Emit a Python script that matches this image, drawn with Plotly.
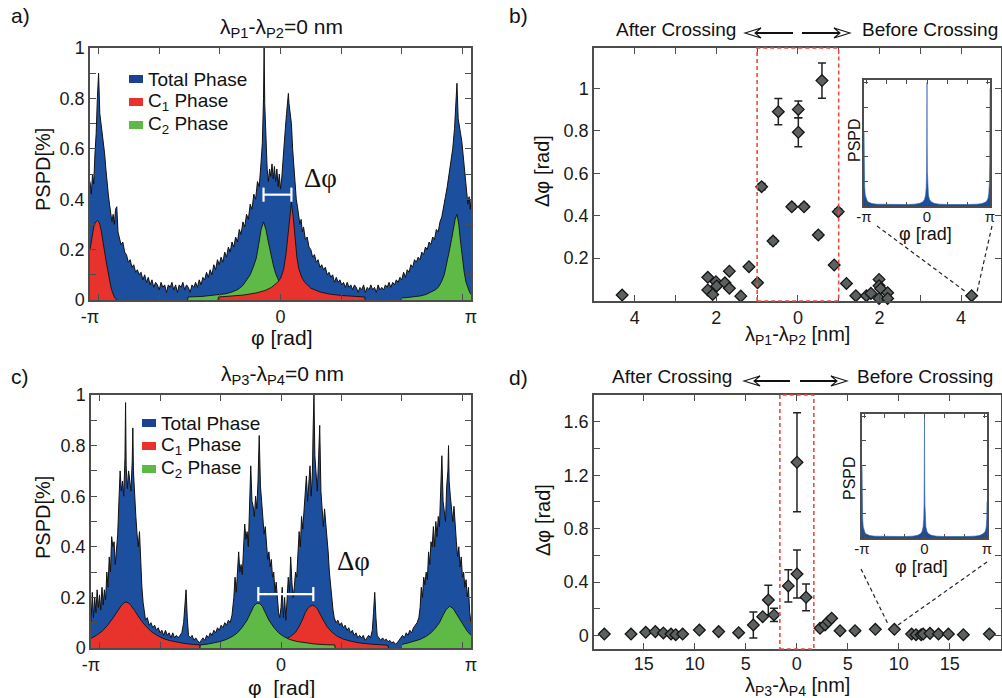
import numpy as np
import plotly.graph_objects as go

PI = float(np.pi)

# ---------------- Panel a : total phase PSPD (phi, value) ----------------
total_a = [(-3.1416,0.47),(-3.12,0.42),(-3.10,0.50),(-3.08,0.46),(-3.06,0.58),(-3.04,0.66),(-3.02,0.80),
 (-3.00,0.90),(-2.98,0.74),(-2.96,0.70),(-2.94,0.68),(-2.92,0.62),(-2.90,0.58),(-2.88,0.52),(-2.86,0.46),
 (-2.84,0.42),(-2.82,0.38),(-2.80,0.35),(-2.78,0.31),(-2.76,0.34),(-2.74,0.30),(-2.72,0.36),(-2.70,0.37),
 (-2.68,0.27),(-2.66,0.25),(-2.63,0.22),(-2.60,0.23),(-2.57,0.19),(-2.54,0.18),(-2.51,0.15),(-2.48,0.16),
 (-2.45,0.13),(-2.42,0.14),(-2.39,0.11),(-2.36,0.12),(-2.33,0.10),(-2.30,0.11),(-2.27,0.08),(-2.24,0.10),
 (-2.21,0.07),(-2.18,0.09),(-2.15,0.06),(-2.12,0.08),(-2.09,0.05),(-2.06,0.07),(-2.03,0.06),(-2.00,0.04),
 (-1.97,0.07),(-1.94,0.05),(-1.91,0.06),(-1.88,0.03),(-1.85,0.06),(-1.82,0.05),(-1.79,0.07),(-1.76,0.04),
 (-1.73,0.06),(-1.70,0.03),(-1.67,0.06),(-1.64,0.05),(-1.61,0.07),(-1.58,0.04),(-1.55,0.06),(-1.52,0.05),
 (-1.49,0.03),(-1.46,0.06),(-1.43,0.05),(-1.40,0.07),(-1.37,0.05),(-1.34,0.08),(-1.31,0.06),(-1.28,0.09),
 (-1.25,0.08),(-1.22,0.11),(-1.19,0.09),(-1.16,0.12),(-1.13,0.10),(-1.10,0.14),(-1.07,0.12),(-1.04,0.16),
 (-1.01,0.14),(-0.98,0.17),(-0.95,0.15),(-0.92,0.19),(-0.89,0.17),(-0.86,0.21),(-0.83,0.19),(-0.80,0.23),
 (-0.77,0.21),(-0.74,0.25),(-0.71,0.23),(-0.68,0.28),(-0.65,0.26),(-0.62,0.31),(-0.59,0.29),(-0.56,0.34),
 (-0.53,0.32),(-0.50,0.38),(-0.47,0.36),(-0.44,0.42),(-0.41,0.40),(-0.38,0.47),(-0.35,0.45),(-0.32,0.55),
 (-0.30,0.62),(-0.28,0.80),(-0.27,1.00),(-0.26,0.78),(-0.24,0.60),(-0.22,0.52),(-0.20,0.47),(-0.18,0.52),
 (-0.16,0.49),(-0.14,0.54),(-0.12,0.48),(-0.10,0.53),(-0.08,0.47),(-0.06,0.52),(-0.04,0.45),(-0.02,0.50),
 (0.00,0.44),(0.02,0.48),(0.04,0.55),(0.06,0.60),(0.08,0.68),(0.10,0.74),(0.12,0.80),(0.13,0.82),
 (0.14,0.78),(0.16,0.74),(0.18,0.70),(0.20,0.60),(0.22,0.52),(0.24,0.44),(0.26,0.40),(0.28,0.37),
 (0.30,0.34),(0.32,0.30),(0.34,0.32),(0.36,0.27),(0.38,0.29),(0.41,0.24),(0.44,0.25),(0.47,0.21),
 (0.50,0.20),(0.53,0.17),(0.56,0.18),(0.59,0.15),(0.62,0.16),(0.65,0.13),(0.68,0.14),(0.71,0.12),
 (0.74,0.13),(0.77,0.10),(0.80,0.11),(0.83,0.09),(0.86,0.10),(0.89,0.07),(0.92,0.09),(0.95,0.07),
 (0.98,0.08),(1.01,0.06),(1.04,0.07),(1.07,0.05),(1.10,0.07),(1.13,0.05),(1.16,0.06),(1.19,0.04),
 (1.22,0.06),(1.25,0.05),(1.28,0.03),(1.31,0.05),(1.34,0.04),(1.37,0.06),(1.40,0.03),(1.43,0.05),
 (1.46,0.04),(1.49,0.06),(1.52,0.04),(1.55,0.05),(1.58,0.03),(1.61,0.06),(1.64,0.04),(1.67,0.05),
 (1.70,0.04),(1.73,0.06),(1.76,0.05),(1.79,0.07),(1.82,0.05),(1.85,0.07),(1.88,0.06),(1.91,0.08),
 (1.94,0.07),(1.97,0.09),(2.00,0.08),(2.03,0.11),(2.06,0.09),(2.09,0.12),(2.12,0.11),(2.15,0.14),
 (2.18,0.13),(2.21,0.16),(2.24,0.15),(2.27,0.17),(2.30,0.16),(2.33,0.19),(2.36,0.18),(2.39,0.21),
 (2.42,0.20),(2.45,0.23),(2.48,0.22),(2.51,0.25),(2.54,0.24),(2.57,0.28),(2.60,0.27),(2.63,0.31),
 (2.66,0.33),(2.69,0.38),(2.72,0.41),(2.75,0.45),(2.78,0.50),(2.81,0.54),(2.84,0.60),(2.87,0.68),
 (2.89,0.76),(2.91,0.86),(2.93,0.72),(2.95,0.68),(2.97,0.66),(2.99,0.63),(3.01,0.58),(3.03,0.52),
 (3.05,0.46),(3.07,0.43),(3.09,0.38),(3.11,0.41),(3.13,0.36),(3.1416,0.40)]

c1_a_left = [(-3.1416,0.20),(-3.12,0.235),(-3.10,0.265),(-3.08,0.29),(-3.06,0.305),(-3.04,0.313),
 (-3.02,0.316),(-3.00,0.312),(-2.98,0.30),(-2.96,0.28),(-2.94,0.255),(-2.92,0.225),(-2.90,0.19),
 (-2.88,0.16),(-2.86,0.13),(-2.84,0.10),(-2.82,0.075),(-2.80,0.055),(-2.78,0.037),(-2.76,0.022),
 (-2.74,0.012),(-2.72,0.005),(-2.70,0.0)]
c1_a_mid = [(-1.03,0.0),(-1.025,0.012),(-0.8,0.016),(-0.6,0.02),(-0.4,0.028),(-0.25,0.038),(-0.15,0.05),
 (-0.05,0.07),(0.0,0.085),(0.05,0.12),(0.09,0.18),(0.12,0.26),(0.15,0.34),(0.18,0.388),(0.21,0.33),
 (0.24,0.25),(0.27,0.17),(0.30,0.125),(0.35,0.09),(0.40,0.07),(0.50,0.047),(0.65,0.032),(0.8,0.024),
 (1.0,0.018),(1.2,0.014),(1.39,0.012),(1.395,0.0)]
c2_a_mid = [(-1.53,0.0),(-1.525,0.012),(-1.3,0.014),(-1.1,0.018),(-0.9,0.025),(-0.8,0.032),(-0.7,0.042),
 (-0.62,0.058),(-0.55,0.08),(-0.5,0.10),(-0.45,0.13),(-0.40,0.165),(-0.36,0.22),(-0.32,0.28),
 (-0.28,0.31),(-0.24,0.28),(-0.20,0.23),(-0.16,0.18),(-0.12,0.14),(-0.08,0.105),(-0.04,0.08),
 (0.0,0.06),(0.02,0.055),(0.021,0.0)]
c2_a_right = [(1.99,0.0),(1.995,0.008),(2.1,0.01),(2.2,0.012),(2.3,0.016),(2.4,0.022),(2.5,0.032),
 (2.55,0.04),(2.6,0.05),(2.65,0.07),(2.7,0.10),(2.74,0.14),(2.78,0.19),(2.82,0.24),(2.85,0.28),
 (2.88,0.32),(2.91,0.34),(2.94,0.30),(2.97,0.23),(3.0,0.16),(3.03,0.11),(3.06,0.07),(3.09,0.045),
 (3.12,0.03),(3.1416,0.022)]
dphi_a = (-0.28, 0.18, 0.418)   # start, end, level of the delta-phi marker

# ---------------- Panel c : total phase PSPD ----------------
total_c = [(-3.1416,0.10),(-3.12,0.22),(-3.10,0.12),(-3.08,0.20),(-3.06,0.14),(-3.04,0.23),(-3.02,0.16),
 (-3.00,0.21),(-2.98,0.15),(-2.96,0.24),(-2.94,0.17),(-2.92,0.23),(-2.90,0.19),(-2.88,0.30),(-2.86,0.24),
 (-2.84,0.36),(-2.82,0.30),(-2.80,0.44),(-2.78,0.40),(-2.76,0.42),(-2.74,0.33),(-2.72,0.38),(-2.70,0.45),
 (-2.68,0.58),(-2.66,0.70),(-2.64,0.62),(-2.62,0.66),(-2.60,0.60),(-2.58,0.75),(-2.57,0.97),(-2.56,0.72),
 (-2.54,0.63),(-2.52,0.70),(-2.50,0.66),(-2.48,0.62),(-2.46,0.74),(-2.45,0.87),(-2.44,0.70),(-2.42,0.58),
 (-2.40,0.52),(-2.38,0.45),(-2.36,0.40),(-2.34,0.46),(-2.32,0.32),(-2.30,0.24),(-2.28,0.18),(-2.26,0.14),
 (-2.24,0.11),(-2.21,0.12),(-2.18,0.09),(-2.15,0.10),(-2.12,0.08),(-2.09,0.09),(-2.06,0.07),(-2.03,0.08),
 (-2.00,0.06),(-1.97,0.07),(-1.94,0.05),(-1.91,0.07),(-1.88,0.05),(-1.85,0.06),(-1.82,0.04),(-1.79,0.06),
 (-1.76,0.04),(-1.73,0.05),(-1.70,0.04),(-1.67,0.05),(-1.64,0.06),(-1.61,0.10),(-1.59,0.17),(-1.57,0.23),
 (-1.55,0.12),(-1.53,0.05),(-1.50,0.04),(-1.47,0.05),(-1.44,0.03),(-1.41,0.04),(-1.38,0.03),(-1.35,0.02),
 (-1.32,0.03),(-1.29,0.04),(-1.26,0.03),(-1.23,0.05),(-1.20,0.04),(-1.17,0.06),(-1.14,0.05),(-1.11,0.07),
 (-1.08,0.06),(-1.05,0.08),(-1.02,0.07),(-0.99,0.09),(-0.96,0.08),(-0.93,0.10),(-0.90,0.09),(-0.87,0.11),
 (-0.84,0.10),(-0.81,0.13),(-0.78,0.20),(-0.76,0.28),(-0.74,0.22),(-0.72,0.30),(-0.70,0.38),(-0.68,0.30),
 (-0.66,0.33),(-0.64,0.29),(-0.62,0.40),(-0.60,0.49),(-0.58,0.43),(-0.56,0.46),(-0.54,0.40),(-0.52,0.55),
 (-0.50,0.72),(-0.48,0.58),(-0.46,0.56),(-0.44,0.52),(-0.42,0.60),(-0.40,0.55),(-0.38,0.66),(-0.36,0.84),
 (-0.34,0.64),(-0.32,0.58),(-0.30,0.52),(-0.28,0.45),(-0.26,0.48),(-0.24,0.41),(-0.22,0.35),(-0.20,0.38),
 (-0.18,0.32),(-0.16,0.35),(-0.14,0.28),(-0.12,0.30),(-0.10,0.22),(-0.08,0.26),(-0.06,0.18),(-0.04,0.14),
 (-0.02,0.12),(0.00,0.16),(0.02,0.24),(0.04,0.12),(0.06,0.20),(0.08,0.11),(0.10,0.19),(0.12,0.28),
 (0.14,0.22),(0.16,0.36),(0.18,0.26),(0.20,0.20),(0.22,0.24),(0.24,0.30),(0.26,0.28),(0.28,0.38),
 (0.30,0.46),(0.32,0.40),(0.34,0.52),(0.36,0.47),(0.38,0.55),(0.40,0.62),(0.42,0.68),(0.44,0.58),
 (0.46,0.66),(0.48,0.72),(0.50,0.60),(0.52,0.70),(0.53,0.85),(0.545,1.00),(0.56,0.76),(0.58,0.70),
 (0.60,0.62),(0.62,0.74),(0.64,0.88),(0.66,0.62),(0.68,0.55),(0.70,0.48),(0.72,0.55),(0.74,0.50),
 (0.76,0.44),(0.78,0.38),(0.80,0.30),(0.82,0.24),(0.84,0.19),(0.86,0.15),(0.88,0.12),(0.91,0.10),
 (0.94,0.11),(0.97,0.09),(1.00,0.10),(1.03,0.08),(1.06,0.09),(1.09,0.07),(1.12,0.08),(1.15,0.06),
 (1.18,0.07),(1.21,0.05),(1.24,0.06),(1.27,0.04),(1.30,0.05),(1.33,0.04),(1.36,0.05),(1.39,0.03),
 (1.42,0.04),(1.45,0.05),(1.48,0.04),(1.51,0.07),(1.53,0.14),(1.55,0.22),(1.57,0.12),(1.59,0.05),
 (1.62,0.04),(1.65,0.03),(1.68,0.04),(1.71,0.03),(1.74,0.035),(1.77,0.025),(1.80,0.03),(1.83,0.02),
 (1.86,0.025),(1.89,0.015),(1.92,0.02),(1.95,0.03),(1.98,0.04),(2.01,0.05),(2.04,0.04),(2.07,0.06),
 (2.10,0.05),(2.13,0.07),(2.16,0.06),(2.19,0.08),(2.22,0.09),(2.25,0.10),(2.28,0.12),(2.30,0.16),
 (2.32,0.24),(2.34,0.20),(2.36,0.28),(2.38,0.25),(2.40,0.30),(2.42,0.27),(2.44,0.38),(2.46,0.33),
 (2.48,0.42),(2.50,0.40),(2.52,0.48),(2.54,0.40),(2.56,0.50),(2.58,0.44),(2.60,0.52),(2.62,0.48),
 (2.64,0.62),(2.66,0.76),(2.68,0.58),(2.70,0.54),(2.72,0.50),(2.74,0.64),(2.76,0.70),(2.77,0.80),
 (2.78,0.66),(2.80,0.60),(2.82,0.55),(2.84,0.50),(2.86,0.56),(2.88,0.46),(2.90,0.42),(2.92,0.36),
 (2.94,0.40),(2.96,0.32),(2.98,0.36),(3.00,0.28),(3.02,0.30),(3.04,0.24),(3.06,0.27),(3.08,0.20),
 (3.10,0.24),(3.12,0.14),(3.1416,0.10)]

c1_c_left = [(-3.1416,0.038),(-3.05,0.05),(-2.95,0.068),(-2.86,0.092),(-2.78,0.118),(-2.70,0.148),
 (-2.64,0.168),(-2.60,0.178),(-2.56,0.182),(-2.52,0.178),(-2.48,0.168),(-2.42,0.148),(-2.34,0.118),
 (-2.25,0.09),(-2.15,0.066),(-2.05,0.05),(-1.95,0.038),(-1.85,0.03),(-1.75,0.024),(-1.6,0.018),
 (-1.45,0.014),(-1.34,0.012),(-1.335,0.0)]
c1_c_mid = [(-0.3,0.0),(-0.295,0.015),(-0.1,0.02),(0.0,0.026),(0.08,0.034),(0.16,0.046),(0.24,0.062),
 (0.30,0.085),(0.36,0.115),(0.40,0.14),(0.44,0.155),(0.48,0.165),(0.52,0.169),(0.56,0.165),(0.60,0.155),
 (0.65,0.135),(0.70,0.11),(0.76,0.085),(0.84,0.063),(0.92,0.048),(1.02,0.036),(1.15,0.027),(1.3,0.02),
 (1.5,0.015),(1.77,0.011),(1.775,0.0)]
c2_c_mid = [(-1.34,0.0),(-1.335,0.012),(-1.2,0.016),(-1.1,0.02),(-1.0,0.026),(-0.9,0.034),(-0.8,0.046),
 (-0.72,0.06),(-0.64,0.082),(-0.56,0.11),(-0.50,0.14),(-0.45,0.165),(-0.41,0.175),(-0.38,0.177),
 (-0.35,0.175),(-0.31,0.165),(-0.26,0.14),(-0.20,0.11),(-0.12,0.082),(-0.04,0.06),(0.04,0.046),
 (0.14,0.034),(0.26,0.026),(0.4,0.02),(0.55,0.016),(0.75,0.013),(0.89,0.012),(0.895,0.0)]
c2_c_right = [(1.99,0.0),(1.995,0.014),(2.1,0.02),(2.2,0.026),(2.3,0.034),(2.4,0.046),(2.48,0.06),
 (2.55,0.078),(2.62,0.10),(2.68,0.13),(2.73,0.152),(2.79,0.165),(2.85,0.155),(2.9,0.135),(2.96,0.11),
 (3.02,0.085),(3.08,0.066),(3.1416,0.05)]
dphi_c = (-0.375, 0.534, 0.213)

# ---------------- Panel b : delta phi vs lambda_P1 - lambda_P2 ----------------
b_dlambda = [-4.31,-2.21,-2.21,-2.09,-2.01,-1.99,-1.79,-1.68,-1.68,-1.40,-1.20,-0.99,-0.89,-0.61,-0.48,
             -0.15,0.01,0.01,0.15,0.50,0.59,0.89,0.99,1.19,1.42,1.68,1.79,1.99,1.99,2.03,1.99,2.20,2.20,4.26]
b_dphi = [0.025,0.109,0.049,0.028,0.088,0.068,0.083,0.057,0.138,0.020,0.159,0.083,0.537,0.280,0.891,
          0.442,0.902,0.794,0.442,0.309,1.038,0.167,0.419,0.080,0.022,0.022,0.033,0.099,0.069,0.055,
          0.009,0.036,0.009,0.022]
b_err = [0,0,0,0,0,0,0,0,0,0,0,0,0.015,0.012,0.062,0.012,0.04,0.069,0.012,0.012,0.083,0,0.012,0,
         0,0,0,0,0,0,0,0,0,0]
b_box = (-1.0, 1.0)

# ---------------- Panel d : delta phi vs lambda_P3 - lambda_P4 ----------------
d_dlambda = [-18.86,-16.24,-14.8,-13.86,-13.07,-12.32,-11.86,-11.18,-9.54,-7.65,-5.69,-4.25,-3.33,-2.78,
             -2.22,-0.82,0.03,0.03,0.92,2.29,2.78,3.1,3.43,4.25,5.72,7.71,9.58,11.27,11.7,12.2,12.4,
             13.07,13.9,14.87,16.34,18.89]
d_dphi = [0.012,0.012,0.025,0.03,0.02,0.012,0.007,0.012,0.042,0.03,0.022,0.08,0.142,0.267,0.155,0.372,
          1.297,0.461,0.287,0.055,0.08,0.105,0.13,0.037,0.037,0.047,0.047,0.012,0.007,0.007,0.012,0.017,
          0.012,0.012,0.007,0.012]
d_err = [0,0,0,0,0,0,0,0,0,0,0,0.097,0,0.11,0.05,0.12,0.37,0.18,0.1,0,0,0,0,0,0,0,0,0,0,0,0,0,0,0,0,0]
d_box = (-1.65, 1.68)

# ---------------- Insets : PSPD far from crossing ----------------
inset_phi = [-3.1416,-3.13,-3.11,-3.08,-3.04,-2.98,-2.9,-2.75,-2.5,-2.0,-1.5,-1.0,-0.6,-0.35,-0.2,-0.12,
             -0.07,-0.04,-0.02,-0.01,-0.004,0.0,0.004,0.01,0.02,0.04,0.07,0.12,0.2,0.35,0.6,1.0,1.5,2.0,
             2.5,2.75,2.9,2.98,3.04,3.08,3.11,3.13,3.1416]
inset_b = [0.60,0.30,0.16,0.09,0.06,0.04,0.03,0.02,0.015,0.012,0.01,0.012,0.015,0.022,0.035,0.055,0.09,
           0.15,0.28,0.5,0.8,1.0,0.8,0.5,0.28,0.15,0.09,0.055,0.035,0.022,0.015,0.012,0.01,0.012,0.015,
           0.02,0.03,0.04,0.06,0.10,0.18,0.35,0.95]
inset_d = [0.60,0.30,0.16,0.09,0.06,0.04,0.03,0.02,0.015,0.012,0.01,0.012,0.015,0.022,0.035,0.055,0.09,
           0.15,0.28,0.5,0.8,1.0,0.8,0.5,0.28,0.15,0.09,0.055,0.035,0.022,0.015,0.012,0.01,0.012,0.015,
           0.02,0.03,0.04,0.05,0.07,0.10,0.16,0.30]
assert len(b_dlambda) == len(b_dphi) == len(b_err)
assert len(d_dlambda) == len(d_dphi) == len(d_err)
assert len(inset_phi) == len(inset_b) == len(inset_d)

# ---------------- styling ----------------
BLUE = '#1d4f9f'
RED = '#e8322c'
GREEN = '#5fb946'
GREY = '#5b6060'
FRAME = '#4d4d4d'
FONT = 'Liberation Sans, Arial, Helvetica, sans-serif'
W, H = 1002, 698


def fx(px):
    return px / W


def fy(py):
    return 1 - py / H


def xy(pairs):
    return [p[0] for p in pairs], [p[1] for p in pairs]


fig = go.Figure()


def area(pairs, color, xa, ya, lw=0.9):
    x, y = xy(pairs)
    fig.add_trace(go.Scatter(x=x, y=y, mode='lines', fill='tozeroy', fillcolor=color,
                             line=dict(color='#111111', width=lw), xaxis=xa, yaxis=ya,
                             showlegend=False, hoverinfo='skip'))


# panel a
area(total_a, BLUE, 'x', 'y', 1.0)
area(c2_a_mid, GREEN, 'x', 'y')
area(c2_a_right, GREEN, 'x', 'y')
area(c1_a_left, RED, 'x', 'y')
area(c1_a_mid, RED, 'x', 'y')
# panel c
area(total_c, BLUE, 'x3', 'y3', 1.0)
area(c1_c_left, RED, 'x3', 'y3')
area(c1_c_mid, RED, 'x3', 'y3')
area(c2_c_mid, GREEN, 'x3', 'y3')
area(c2_c_right, GREEN, 'x3', 'y3')


def scatter(x, y, err, xa, ya):
    fig.add_trace(go.Scatter(x=x, y=y, mode='markers', xaxis=xa, yaxis=ya, showlegend=False,
                             marker=dict(symbol='diamond', size=9, color=GREY,
                                         line=dict(color='#151515', width=1.3)),
                             error_y=dict(type='data', array=err, visible=True, color='#222222',
                                          thickness=1.5, width=4),
                             cliponaxis=False))


scatter(b_dlambda, b_dphi, b_err, 'x2', 'y2')
scatter(d_dlambda, d_dphi, d_err, 'x4', 'y4')

for vals, xa, ya in [(inset_b, 'x5', 'y5'), (inset_d, 'x6', 'y6')]:
    fig.add_trace(go.Scatter(x=inset_phi, y=vals, mode='lines', fill='tozeroy',
                             fillgradient=dict(type='vertical', start=0, stop=1,
                                               colorscale=[[0, '#1a4a9a'], [0.35, '#2a62b5'],
                                                           [1, '#eef4fb']]),
                             line=dict(color='#2a5cae', width=0.6), xaxis=xa, yaxis=ya,
                             showlegend=False, hoverinfo='skip'))

TICKFONT = dict(size=18, color='#1a1a1a', family=FONT)
ax = dict(showline=True, linecolor=FRAME, linewidth=1.5, mirror='ticks', ticks='inside', ticklen=6,
          tickwidth=1.2, tickcolor=FRAME, showgrid=False, zeroline=False, automargin=False,
          tickfont=TICKFONT)
minor_style = dict(ticks='inside', ticklen=6, tickwidth=1.2, tickcolor=FRAME, showgrid=False)

phi_ticks = dict(tickmode='array', tickvals=[-PI, 0, PI], ticktext=['-π', '0', 'π'],
                 minor=dict(tickmode='array', tickvals=[-3, -2, -1, 1, 2, 3], **minor_style))
pspd_ticks = dict(tickmode='array', tickvals=[0, 0.2, 0.4, 0.6, 0.8, 1.0],
                  ticktext=['0', '0.2', '0.4', '0.6', '0.8', '1'],
                  minor=dict(tickmode='linear', tick0=0, dtick=0.1, **minor_style))
INSET_FONT = dict(size=15, color='#1a1a1a', family=FONT)

fig.update_layout(
    xaxis=dict(ax, domain=[fx(90), fx(471)], range=[-PI, PI], anchor='y', **phi_ticks),
    yaxis=dict(ax, domain=[fy(300), fy(48)], range=[0, 1.0], anchor='x', **pspd_ticks),
    xaxis3=dict(ax, domain=[fx(91), fx(471)], range=[-PI, PI], anchor='y3', **phi_ticks),
    yaxis3=dict(ax, domain=[fy(648), fy(395)], range=[0, 1.0], anchor='x3', **pspd_ticks),
    xaxis2=dict(ax, domain=[fx(594), fx(1001)], range=[-5.0, 4.98], anchor='y2', tickmode='array',
                tickvals=[-4, -2, 0, 2, 4], ticktext=['4', '2', '0', '2', '4'],
                minor=dict(tickmode='linear', tick0=0, dtick=1, **minor_style)),
    yaxis2=dict(ax, domain=[fy(301), fy(48)], range=[-0.003, 1.192], anchor='x2', tickmode='array',
                tickvals=[0.2, 0.4, 0.6, 0.8, 1.0], ticktext=['0.2', '0.4', '0.6', '0.8', '1']),
    xaxis4=dict(ax, domain=[fx(594), fx(1001)], range=[-19.87, 20.03], anchor='y4', tickmode='array',
                tickvals=[-15, -10, -5, 0, 5, 10, 15], ticktext=['15', '10', '5', '0', '5', '10', '15'],
                ticklabelstandoff=-2),
    yaxis4=dict(ax, domain=[fy(649), fy(395)], range=[-0.10, 1.80], anchor='x4', tickmode='array',
                tickvals=[0, 0.4, 0.8, 1.2, 1.6], ticktext=['0', '0.4', '0.8', '1.2', '1.6'],
                minor=dict(tickmode='array', tickvals=[0.2, 0.6, 1.0, 1.4], **minor_style)),
    xaxis5=dict(ax, domain=[fx(864), fx(990)], range=[-PI, PI], anchor='y5', ticklen=4,
                tickfont=INSET_FONT, tickmode='array', ticklabelstandoff=-4,
                tickvals=[-PI, 0, PI], ticktext=['-π', '0', 'π'],
                minor=dict(tickmode='array', tickvals=[-3, -2, -1, 1, 2, 3], ticks='inside', ticklen=4,
                           tickcolor=FRAME)),
    yaxis5=dict(ax, domain=[fy(206), fy(80)], range=[0, 1.02], anchor='x5', ticklen=4,
                showticklabels=False, tickmode='linear', tick0=0, dtick=0.2),
    xaxis6=dict(ax, domain=[fx(862), fx(987)], range=[-PI, PI], anchor='y6', ticklen=4,
                tickfont=INSET_FONT, tickmode='array', ticklabelstandoff=-4,
                tickvals=[-PI, 0, PI], ticktext=['-π', '0', 'π'],
                minor=dict(tickmode='array', tickvals=[-3, -2, -1, 1, 2, 3], ticks='inside', ticklen=4,
                           tickcolor=FRAME)),
    yaxis6=dict(ax, domain=[fy(538), fy(414)], range=[0, 1.02], anchor='x6', ticklen=4,
                showticklabels=False, tickmode='linear', tick0=0, dtick=0.2),
)

shapes = []
# delta-phi markers
for (x0, x1, lev), xr, yr in [(dphi_a, 'x', 'y'), (dphi_c, 'x3', 'y3')]:
    ln = dict(color='white', width=2.2)
    shapes.append(dict(type='line', xref=xr, yref=yr, x0=x0, x1=x1, y0=lev, y1=lev, line=ln))
    for xc in (x0, x1):
        shapes.append(dict(type='line', xref=xr, yref=yr, x0=xc, x1=xc, y0=lev - 0.028, y1=lev + 0.028,
                           line=ln))
# red dashed windows
for (x0, x1), xr, yr in [(b_box, 'x2', 'y2 domain'), (d_box, 'x4', 'y4 domain')]:
    shapes.append(dict(type='rect', xref=xr, yref=yr, x0=x0, x1=x1, y0=0, y1=1,
                       line=dict(color='#ee4a40', width=1.6, dash='4px,3px')))
# dashed zoom lines from insets to the points they illustrate
for (a, b, c, d) in [(877, 226, 966, 292), (992, 226, 977, 292), (861, 569, 888, 624), (987, 562, 898, 625)]:
    shapes.append(dict(type='line', xref='paper', yref='paper', x0=fx(a), y0=fy(b), x1=fx(c), y1=fy(d),
                       line=dict(color='#222222', width=1.2, dash='4px,3px')))


# header arrows
def arrow(tail, tip, yy):
    s = 1 if tip > tail else -1
    shapes.append(dict(type='line', xref='paper', yref='paper', x0=fx(tail), x1=fx(tip - s * 9),
                       y0=fy(yy), y1=fy(yy), line=dict(color='#111111', width=2)))
    p = (f'M {fx(tip)} {fy(yy)} L {fx(tip - s * 16)} {fy(yy - 5)} L {fx(tip - s * 10)} {fy(yy)} '
         f'L {fx(tip - s * 16)} {fy(yy + 5)} Z')
    shapes.append(dict(type='path', xref='paper', yref='paper', path=p, fillcolor='white',
                       line=dict(color='#111111', width=1.1)))


arrow(793, 745, 33)
arrow(802, 850, 33)
arrow(790, 744, 381)
arrow(800, 847, 381)

annots = []


def txt(px, py, s, size=17, angle=0, family=None, anchor='center'):
    f = dict(size=size, color='#111111')
    if family:
        f['family'] = family
    annots.append(dict(x=fx(px), y=fy(py), xref='paper', yref='paper', showarrow=False, text=s,
                       textangle=angle, font=f, xanchor=anchor, yanchor='middle'))


# manual legends
leg = [(BLUE, 'Total Phase'), (RED, 'C<sub>1</sub> Phase'), (GREEN, 'C<sub>2</sub> Phase')]
for (sx, sy) in [(129, 79), (142, 423)]:
    for i, (col, label) in enumerate(leg):
        yc = sy + 23 * i
        shapes.append(dict(type='rect', xref='paper', yref='paper', x0=fx(sx), x1=fx(sx + 14),
                           y0=fy(yc + 4), y1=fy(yc - 4), fillcolor=col if i else '#1b4192',
                           line=dict(width=0)))
        txt(sx + 17, yc, label, 19, anchor='left')

fig.update_layout(shapes=shapes)

txt(20, 16, 'a)', 21)
txt(518, 16, 'b)', 21)
txt(20, 376, 'c)', 21)
txt(518, 377, 'd)', 21)
txt(281, 28, 'λ<sub>P1</sub>-λ<sub>P2</sub>=0 nm', 21)
txt(282, 375, 'λ<sub>P3</sub>-λ<sub>P4</sub>=0 nm', 21)
txt(43, 170, 'PSPD[%]', 20, -90)
txt(43, 518, 'PSPD[%]', 20, -90)
txt(281, 337, 'φ [rad]', 21)
txt(281, 687, 'φ  [rad]', 21)
txt(542, 171, 'Δφ [rad]', 20, -90)
txt(543, 520, 'Δφ [rad]', 20, -90)
txt(797, 336, 'λ<sub>P1</sub>-λ<sub>P2</sub> [nm]', 20)
txt(797, 686, 'λ<sub>P3</sub>-λ<sub>P4</sub> [nm]', 20)
txt(676, 29, 'After Crossing', 19)
txt(930, 29, 'Before Crossing', 19)
txt(672, 376, 'After Crossing', 19)
txt(925, 376, 'Before Crossing', 19)
txt(854, 140, 'PSPD', 16, -90)
txt(849, 478, 'PSPD', 16, -90)
txt(925, 234, 'φ [rad]', 18)
txt(921, 567, 'φ [rad]', 18)
txt(320, 178, 'Δφ', 27, family='Liberation Serif, Times New Roman, serif')
txt(353, 561, 'Δφ', 27, family='Liberation Serif, Times New Roman, serif')

fig.update_layout(annotations=annots, width=W, height=H, autosize=False,
                  margin=dict(l=0, r=0, t=0, b=0), paper_bgcolor='white', plot_bgcolor='white',
                  font=dict(family=FONT, color='#111111'), showlegend=False)

fig.write_html('out.html', config={'displayModeBar': False},
               post_script="document.body.style.margin='0px';")
